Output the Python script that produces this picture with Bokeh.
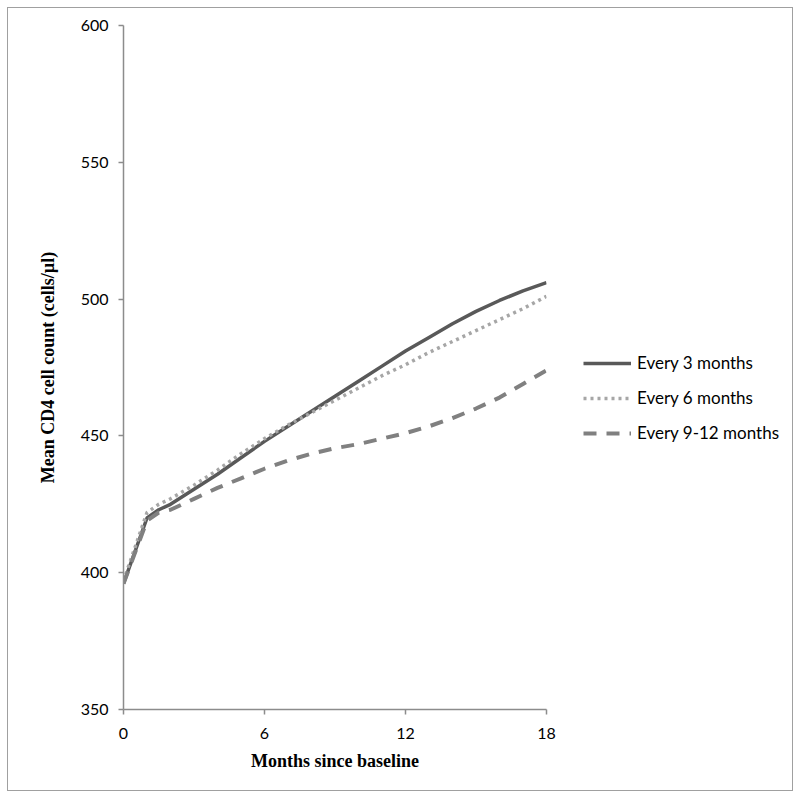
from bokeh.plotting import figure
from bokeh.models import Range1d, FixedTicker, Legend, LegendItem, Title
from bokeh.embed import file_html
from bokeh.resources import INLINE

months = [0, 1, 1.5, 2, 3, 4, 5, 6, 7, 8, 9, 10, 11, 12, 13, 14, 15, 16, 17, 18]
every_3 = [396, 420, 423, 425, 430.5, 436, 442, 448, 453.5, 459, 464.5, 470, 475.5, 481, 486, 491, 495.5, 499.5, 503, 506]
every_6 = [397, 422, 425, 427, 432, 437.5, 443.5, 449, 454, 458.5, 463, 467.5, 472, 476, 480.5, 484.5, 488.5, 492.5, 496.5, 501]
every_9_12 = [396, 419, 422, 423, 427, 431, 434.5, 438, 441, 443.5, 445.5, 447, 449, 451, 453.5, 456.5, 460, 464, 469, 474]
x_ticks = [0, 6, 12, 18]
y_ticks = [350, 400, 450, 500, 550, 600]
labels = ["Every 3 months", "Every 6 months", "Every 9-12 months"]

p = figure(frame_width=423, frame_height=684, output_backend="svg", toolbar_location=None,
           x_range=Range1d(0, 18), y_range=Range1d(350, 600),
           min_border_left=115, min_border_right=246, min_border_top=17, min_border_bottom=81)
p.margin = (7, 0, 0, 7)
p.styles = {"border": "1px solid #a0a0a0", "max-width": "786px",
            "overflow": "hidden", "box-sizing": "border-box"}
p.outline_line_color = None
p.grid.visible = False

for ax in (p.xaxis[0], p.yaxis[0]):
    ax.axis_line_color = "#8c8c8c"
    ax.axis_line_width = 1.5
    ax.major_tick_line_color = "#8c8c8c"
    ax.major_tick_line_width = 1.5
    ax.major_tick_out = 5
    ax.major_tick_in = 0
    ax.minor_tick_line_color = None
    ax.major_label_text_font = "Lato"
    ax.major_label_text_font_size = "16px"
    ax.major_label_text_color = "#000000"
    ax.axis_label_text_font = "Liberation Serif"
    ax.axis_label_text_font_style = "bold"
    ax.axis_label_text_font_size = "18px"
    ax.axis_label_text_color = "#000000"

p.xaxis.ticker = FixedTicker(ticks=x_ticks)
p.yaxis.ticker = FixedTicker(ticks=y_ticks)
p.xaxis.axis_label = "Months since baseline"
p.xaxis.major_label_standoff = 13
p.yaxis.major_label_standoff = 10
p.xaxis.axis_label_standoff = 9

ytitle = Title(text="Mean CD4 cell count (cells/µl)", align="center", offset=-8,
               text_font="Liberation Serif", text_font_style="bold",
               text_font_size="18px", text_color="#000000", standoff=40)
p.add_layout(ytitle, "left")

r1 = p.line(months, every_3, line_color="#595959", line_width=3.5)
r2 = p.line(months, every_6, line_color="#a6a6a6", line_width=3.5, line_dash="3 4")
r3 = p.line(months, every_9_12, line_color="#808080", line_width=4, line_dash="13 10")

legend = Legend(items=[LegendItem(label=labels[0], renderers=[r1]),
                       LegendItem(label=labels[1], renderers=[r2]),
                       LegendItem(label=labels[2], renderers=[r3])],
                location=(37, 266), orientation="vertical")
legend.border_line_color = None
legend.background_fill_alpha = 0
legend.padding = 0
legend.margin = 0
legend.spacing = 14
legend.glyph_width = 48
legend.glyph_height = 20
legend.label_height = 20
legend.label_standoff = 6
legend.label_text_font = "Lato"
legend.label_text_font_size = "17px"
legend.label_text_color = "#000000"
p.add_layout(legend, "right")

open("out.html", "w").write(file_html(p, INLINE))
